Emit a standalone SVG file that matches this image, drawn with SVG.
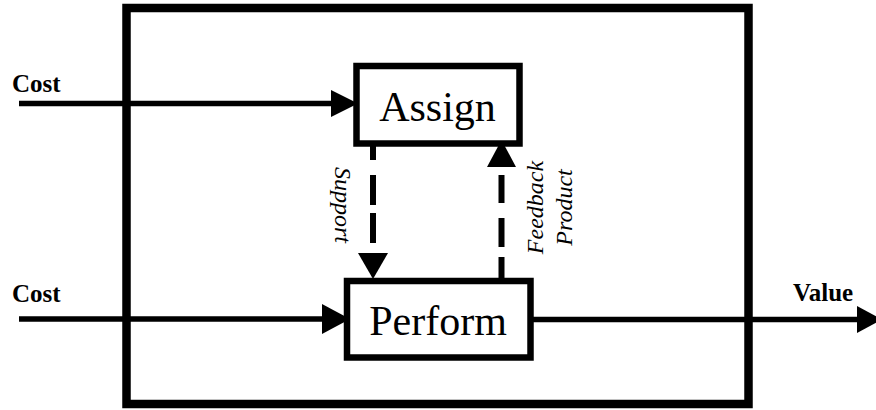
<svg xmlns="http://www.w3.org/2000/svg" width="876" height="410" viewBox="0 0 876 410">
  <style>
    .frame { fill: #fff; stroke: #000; stroke-width: 8.5; }
    .box { fill: #fff; stroke: #000; stroke-width: 6.5; }
    .flow { fill: none; stroke: #000; stroke-width: 5.5; }
    .dash { fill: none; stroke: #000; stroke-width: 6; }
    .head { fill: #000; stroke: none; }
    .title { font-family: "Liberation Serif", "Times New Roman", serif; font-size: 42px; fill: #000; text-anchor: middle; }
    .io { font-family: "Liberation Serif", "Times New Roman", serif; font-size: 25px; font-weight: bold; fill: #000; }
    .note { font-family: "Liberation Serif", "Times New Roman", serif; font-size: 24px; font-style: italic; fill: #000; text-anchor: middle; }
  </style>

  <rect width="876" height="410" fill="#fff"/>

  <!-- system boundary -->
  <g id="system">
    <rect class="frame" x="126.5" y="8" width="622" height="396"/>
  </g>

  <!-- flows between the outside and the two activities -->
  <g id="connectors">
    <!-- incoming cost to Assign -->
    <line class="flow" x1="19" y1="103.5" x2="335" y2="103.5"/>
    <polygon class="head" points="331,90 331,117 358,103.5"/>
    <!-- incoming cost to Perform -->
    <line class="flow" x1="19" y1="319" x2="325" y2="319"/>
    <polygon class="head" points="322,304 322,334 350,319"/>
    <!-- outgoing value -->
    <line class="flow" x1="530" y1="319.5" x2="860" y2="319.5"/>
    <polygon class="head" points="857,306 857,333 882,319.5"/>
    <!-- support: Assign down to Perform -->
    <path class="dash" d="M373,140 V160 M373,175 V205 M373,213 V243"/>
    <polygon class="head" points="358,253 388,253 373,279"/>
    <!-- product feedback: Perform up to Assign -->
    <path class="dash" d="M501.5,175 V203 M501.5,218 V247 M501.5,257 V281"/>
    <polygon class="head" points="487,167 516,167 501.5,140"/>
  </g>

  <g id="assign">
    <rect class="box" x="356.5" y="66" width="163" height="77.5"/>
    <text class="title" x="437.5" y="121">Assign</text>
  </g>

  <g id="perform">
    <rect class="box" x="347" y="281" width="183.5" height="76.5"/>
    <text class="title" x="438" y="335">Perform</text>
  </g>

  <!-- flow labels -->
  <g id="labels">
    <text class="io" x="12" y="92">Cost</text>
    <text class="io" x="12" y="302">Cost</text>
    <text class="io" x="793" y="301">Value</text>
    <text class="note" transform="translate(335,205) rotate(90)">Support</text>
    <text class="note" transform="translate(543,207.5) rotate(-90)">Feedback</text>
    <text class="note" transform="translate(572,207.5) rotate(-90)">Product</text>
  </g>
</svg>
